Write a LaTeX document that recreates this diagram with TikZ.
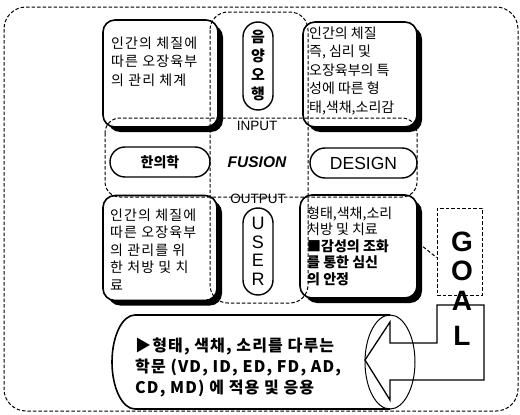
\documentclass[tikz,border=0pt]{standalone}
\usepackage{fontspec}
\setmainfont{Liberation Sans}
\newfontfamily\kor{Noto Sans CJK KR}
\newfontfamily\korwide{Noto Sans CJK KR}[LetterSpace=8]
\newfontfamily\korgoal{Noto Sans CJK KR}[LetterSpace=7]
\usetikzlibrary{shadows}
\begin{document}
\begin{tikzpicture}[
  x=1pt, y=-1pt,
  dashline/.style = {dash pattern=on 3.5pt off 2pt, line width=1pt},
  box/.style = {draw, line width=1.6pt, rounded corners=12pt, fill=white,
    drop shadow={shadow xshift=5pt, shadow yshift=-5pt, fill=black, opacity=1}},
  pill/.style = {draw, line width=1.4pt, rounded corners=15pt, fill=white, inner sep=0pt},
  boxtext/.style = {anchor=north west, inner sep=0pt, align=left},
  tag/.style = {inner sep=0pt}
]
  \useasboundingbox (0,0) rectangle (520,415);
  % outer frame
  \draw[dashline, rounded corners=22pt] (4,7) rectangle (518,411);

  % four boxes
  \node[box, minimum width=115pt, minimum height=107pt] (tlbox) at (160.5,73.5) {};
  \node[box, minimum width=114pt, minimum height=105pt] (trbox) at (360,74.5) {};
  \node[box, minimum width=114pt, minimum height=105pt] (blbox) at (160,248) {};
  \node[box, minimum width=117pt, minimum height=103pt] (brbox) at (358.5,246.5) {};

  \node[boxtext, font=\korwide\fontsize{14}{18.5}\selectfont] (tltext) at (111,36.5)
    {인간의 체질에\\따른 오장육부\\의 관리 체계};
  \node[boxtext, font=\kor\fontsize{14}{18.5}\selectfont] (trtext) at (309,26.5)
    {인간의 체질\\즉, 심리 및\\오장육부의 특\\성에 따른 형\\태,색채,소리감};
  \node[boxtext, font=\korwide\fontsize{14}{17.5}\selectfont] (bltext) at (110,208.5)
    {인간의 체질에\\따른 오장육부\\의 관리를 위\\한 처방 및 치\\료};
  \node[boxtext, font=\kor\fontsize{14}{16.5}\selectfont] (brtext) at (307,206.5)
    {형태,색채,소리\\처방 및 치료\\{\bfseries ■감성의 조화}\\{\bfseries 를 통한 심신}\\{\bfseries 의 안정}};

  % cross of dashed bands
  \draw[dashline, rounded corners=18pt] (210,12) rectangle (308,303);
  \draw[dashline, rounded corners=15pt] (105,118) rectangle (417,197);

  \node[pill, minimum width=30pt, minimum height=88pt, align=center,
    font=\kor\bfseries\fontsize{15}{19}\selectfont] (yinyang) at (258,66) {음\\양\\오\\행};
  \node[pill, minimum width=30pt, minimum height=87pt, align=center,
    font=\fontsize{18}{18.5}\selectfont] (user) at (258,251.5) {U\\S\\E\\R};
  \node[pill, minimum width=100pt, minimum height=30pt,
    font=\kor\bfseries\fontsize{14}{14}\selectfont] (hanui) at (160,162) {한의학};
  \node[pill, minimum width=107pt, minimum height=30pt,
    font=\fontsize{17.5}{17.5}\selectfont] (design) at (363.5,163) {DESIGN};

  \node[tag, font=\fontsize{13.5}{13.5}\selectfont] (input) at (257,126) {INPUT};
  \node[tag, font=\fontsize{15.5}{15.5}\selectfont\bfseries\itshape] (fusion) at (257,162) {FUSION};
  \node[tag, font=\fontsize{13.5}{13.5}\selectfont] (output) at (258,199) {OUTPUT};

  % goal
  \node[dashline, draw, minimum width=45pt, minimum height=87pt] (goalbox) at (459.5,251.5) {};
  \draw[dashline] (brbox.east) -- ++(5,0) -- ([yshift=-6pt]goalbox.west);

  \draw[line width=1.6pt] (390,315) -- (135,315)
    arc[start angle=270, end angle=90, x radius=23, y radius=47] -- (390,409);
  \draw[line width=1.3pt, fill=white] (437,305) -- (484,305) -- (484,380) -- (390,380)
    -- (390,400) -- (365,360) -- (390,322) -- (390,343) -- (437,343) -- cycle;
  \draw[line width=1pt] (390,362) ellipse [x radius=25, y radius=47];

  \foreach \c/\yy [count=\i] in {G/242, O/271, A/301, L/336}
    \node[tag, font=\fontsize{28}{28}\selectfont\bfseries] (goal\i) at (462,\yy) {\c};

  \node[boxtext, font=\korgoal\bfseries\fontsize{16}{21}\selectfont] (goaltext) at (135,337.5)
    {▶형태, 색채, 소리를 다루는\\학문 (VD, ID, ED, FD, AD,\\CD, MD) 에 적용 및 응용};
\end{tikzpicture}
\end{document}
